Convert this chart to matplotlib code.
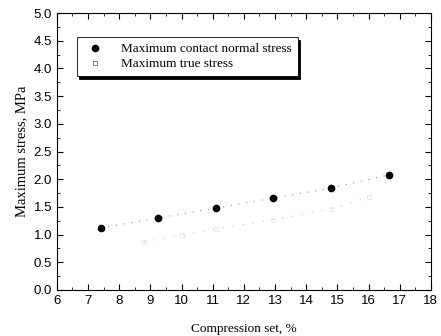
import matplotlib.pyplot as plt
from matplotlib.ticker import MultipleLocator

plt.rcParams["font.family"] = "Liberation Sans"

# data
compression_set = [7.4, 9.25, 11.1, 12.95, 14.8, 16.65]
contact_normal_stress = [1.12, 1.30, 1.48, 1.66, 1.84, 2.08]

true_x = [8.8, 10.0, 11.1, 12.95, 14.8, 16.0]
true_stress = [0.87, 0.99, 1.10, 1.27, 1.46, 1.68]

fig = plt.figure(figsize=(4.41, 3.36), dpi=100)
ax = fig.add_axes([0.129, 0.137, 0.848, 0.824])

ax.plot(compression_set, contact_normal_stress, linestyle=(0, (1, 6)), color="0.55", lw=0.8)
ax.plot(compression_set, contact_normal_stress, "o", color="black", ms=4.5,
        linestyle="none", label="Maximum contact normal stress")
ax.plot(true_x, true_stress, linestyle=(0, (1, 8)), color="0.75", lw=0.8)
ax.plot(true_x, true_stress, "s", mfc="none", mec="0.88", ms=3, mew=0.5,
        linestyle="none", label="Maximum true stress")

ax.set_xlim(6, 18)
ax.set_ylim(0, 5)
ax.xaxis.set_major_locator(MultipleLocator(1))
ax.xaxis.set_minor_locator(MultipleLocator(0.5))
ax.yaxis.set_major_locator(MultipleLocator(0.5))
ax.yaxis.set_minor_locator(MultipleLocator(0.25))
ax.yaxis.set_major_formatter(plt.FormatStrFormatter("%.1f"))
ax.tick_params(which="both", direction="in", top=True, right=True)
ax.tick_params(which="major", length=4, labelsize=9.5)
ax.tick_params(which="minor", length=2)

ax.set_xlabel("Compression set, %", family="Liberation Serif", fontsize=9.5, labelpad=12)
ax.set_ylabel("Maximum stress, MPa", family="Liberation Serif", fontsize=10.5, labelpad=4)

leg = ax.legend(loc="upper left", bbox_to_anchor=(0.053, 0.913), frameon=True,
                fancybox=False, shadow={"color": "black", "alpha": 1, "ox": 2, "oy": -2},
                edgecolor="black", handletextpad=1.1, borderpad=0.45, labelspacing=0.2,
                borderaxespad=0, handlelength=1.8,
                prop={"family": "Liberation Serif", "size": 9.5})
leg.get_frame().set_linewidth(0.6)
leg.legend_handles[1].set_markeredgecolor("0.3")

fig.savefig("out.png", dpi=100)
